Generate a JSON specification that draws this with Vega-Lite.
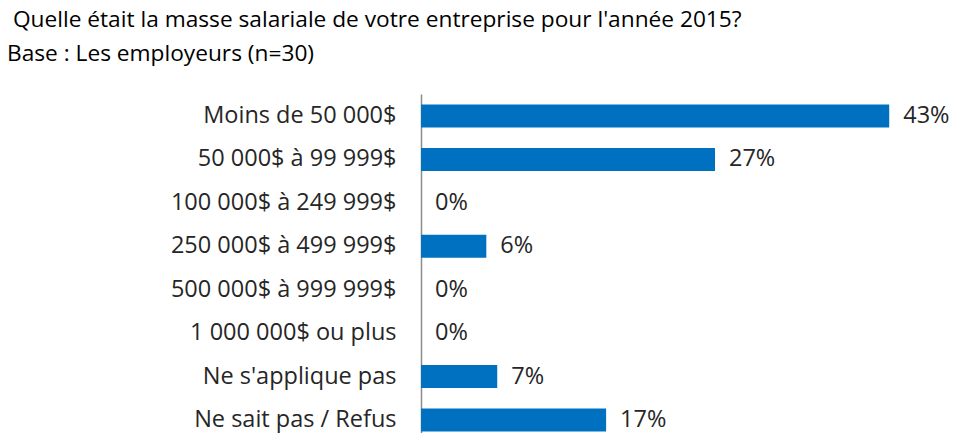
{
  "$schema": "https://vega.github.io/schema/vega-lite/v6.json",
  "autosize": {"type": "none"},
  "width": 490,
  "height": 339,
  "padding": {"left": 421, "top": 94, "right": 42, "bottom": 0},
  "background": "white",
  "config": {"view": {"stroke": null}, "font": "Open Sans"},
  "title": {
    "text": ["\u200b\u00a0Quelle était la masse salariale de votre entreprise pour l'année 2015?", "Base : Les employeurs (n=30)"],
    "anchor": "start",
    "frame": "group",
    "dx": -414,
    "dy": -24,
    "fontSize": 22.7,
    "fontWeight": "normal",
    "color": "#000000",
    "lineHeight": 34,
    "font": "Open Sans"
  },
  "data": {
    "values": [
      {"categorie": "Moins de 50 000$", "pct": 0.43},
      {"categorie": "50 000$ à 99 999$", "pct": 0.27},
      {"categorie": "100 000$ à 249 999$", "pct": 0.0},
      {"categorie": "250 000$ à 499 999$", "pct": 0.06},
      {"categorie": "500 000$ à 999 999$", "pct": 0.0},
      {"categorie": "1 000 000$ ou plus", "pct": 0.0},
      {"categorie": "Ne s'applique pas", "pct": 0.07},
      {"categorie": "Ne sait pas / Refus", "pct": 0.17}
    ]
  },
  "encoding": {
    "y": {
      "field": "categorie",
      "type": "nominal",
      "sort": null,
      "scale": {"paddingInner": 0.47, "paddingOuter": 0.138, "align": 0.875},
      "axis": {
        "title": null,
        "ticks": false,
        "domainColor": "#8c8c8c",
        "domainWidth": 1.5,
        "labelFontSize": 23.5,
        "labelColor": "#262626",
        "labelPadding": 25,
        "labelLimit": 400,
        "labelFont": "Open Sans"
      }
    },
    "x": {
      "field": "pct",
      "type": "quantitative",
      "scale": {"domain": [0, 0.45], "nice": false},
      "axis": null
    }
  },
  "layer": [
    {"mark": {"type": "bar", "color": "#0070C0"}},
    {
      "mark": {"type": "text", "align": "left", "baseline": "middle", "dx": 14, "fontSize": 23.5, "color": "#262626", "font": "Open Sans"},
      "encoding": {"text": {"field": "pct", "type": "quantitative", "format": ".0%"}}
    }
  ]
}
